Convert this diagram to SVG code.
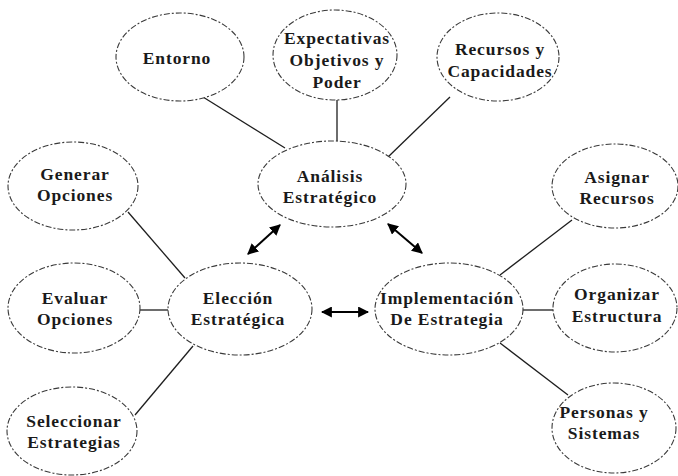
<svg xmlns="http://www.w3.org/2000/svg" width="678" height="476" viewBox="0 0 678 476">
<style>
.n ellipse{fill:#fff;stroke:#3a3a3a;stroke-width:1.1;stroke-dasharray:6 2 2 2}
.n text{font-family:"Liberation Serif","Times New Roman",serif;font-weight:bold;font-size:17.5px;letter-spacing:0.9px;fill:#1a1a1a;text-anchor:middle}
.c line{stroke:#1e1e1e;stroke-width:1.3}
.c .a{stroke:#000;stroke-width:2;marker-start:url(#ah);marker-end:url(#ah)}
</style>
<defs>
<marker id="ah" viewBox="0 0 10 10" refX="9" refY="5" markerWidth="5.5" markerHeight="5.5" orient="auto-start-reverse" markerUnits="strokeWidth">
<path d="M0,0 L10,5 L0,10 z" fill="#000"/>
</marker>
</defs>
<rect width="678" height="476" fill="#fff"/>
<g id="connectors" class="c">
<line x1="203" y1="97" x2="285" y2="148"/>
<line x1="337" y1="100" x2="337" y2="141"/>
<line x1="450" y1="97" x2="388" y2="157"/>
<line x1="128" y1="212" x2="185" y2="278"/>
<line x1="140" y1="310" x2="168" y2="310"/>
<line x1="135" y1="415" x2="193" y2="346"/>
<line x1="572" y1="220" x2="500" y2="275"/>
<line x1="522" y1="310" x2="553" y2="310"/>
<line x1="500" y1="343" x2="568" y2="395"/>
<line class="a" x1="248" y1="254" x2="280" y2="225"/>
<line class="a" x1="388" y1="224" x2="422" y2="253"/>
<line class="a" x1="322" y1="312" x2="368" y2="312"/>
</g>
<g id="entorno" class="n"><ellipse cx="180" cy="57" rx="64" ry="44"/><text x="177" y="64">Entorno</text></g>
<g id="expectativas" class="n"><ellipse cx="335" cy="55" rx="62" ry="45"/><text x="337" y="44">Expectativas</text><text x="337" y="66">Objetivos y</text><text x="337" y="88">Poder</text></g>
<g id="recursos-capacidades" class="n"><ellipse cx="498" cy="57" rx="61" ry="44"/><text x="500" y="55">Recursos y</text><text x="500" y="77">Capacidades</text></g>
<g id="generar" class="n"><ellipse cx="73" cy="186" rx="65" ry="44"/><text x="75" y="180">Generar</text><text x="75" y="201">Opciones</text></g>
<g id="analisis" class="n"><ellipse cx="332" cy="184" rx="74" ry="43"/><text x="330" y="182">Análisis</text><text x="330" y="203">Estratégico</text></g>
<g id="asignar" class="n"><ellipse cx="615" cy="186" rx="63" ry="42"/><text x="617" y="183">Asignar</text><text x="617" y="204">Recursos</text></g>
<g id="evaluar" class="n"><ellipse cx="74" cy="308" rx="66" ry="45"/><text x="75" y="304">Evaluar</text><text x="75" y="325">Opciones</text></g>
<g id="eleccion" class="n"><ellipse cx="240" cy="309" rx="72" ry="46"/><text x="238" y="304">Elección</text><text x="238" y="325">Estratégica</text></g>
<g id="implementacion" class="n"><ellipse cx="449" cy="309" rx="74" ry="46"/><text x="447" y="304">Implementación</text><text x="447" y="325">De Estrategia</text></g>
<g id="organizar" class="n"><ellipse cx="615" cy="308" rx="62" ry="44"/><text x="617" y="300">Organizar</text><text x="617" y="322">Estructura</text></g>
<g id="seleccionar" class="n"><ellipse cx="72" cy="431" rx="65" ry="44"/><text x="74" y="427">Seleccionar</text><text x="74" y="448">Estrategias</text></g>
<g id="personas" class="n"><ellipse cx="614" cy="428" rx="62" ry="45"/><text x="604" y="418">Personas y</text><text x="604" y="439">Sistemas</text></g>
</svg>
